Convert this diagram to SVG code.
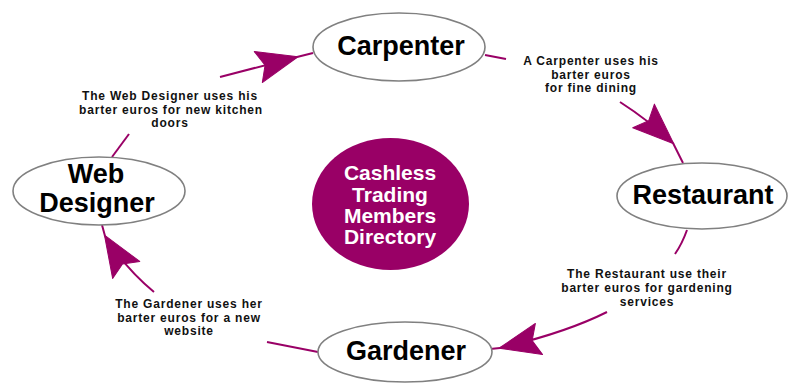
<svg xmlns="http://www.w3.org/2000/svg" width="789" height="383" viewBox="0 0 789 383">
  <defs>
    <style>
      .node { fill: #ffffff; stroke: #808080; stroke-width: 1.6; }
      .hub { fill: #990066; }
      .name { font-family: "Liberation Sans", Arial, sans-serif; font-weight: bold; font-size: 27px; fill: #000000; text-anchor: middle; }
      .hubtext { font-family: "Liberation Sans", Arial, sans-serif; font-weight: bold; font-size: 21px; fill: #ffffff; text-anchor: middle; }
      .label { font-family: "Liberation Sans", Arial, sans-serif; font-weight: bold; font-size: 12px; letter-spacing: 0.8px; fill: #111111; text-anchor: middle; }
      .link { fill: none; stroke: #990066; stroke-width: 2; }
    </style>
    <!-- barbed arrowhead, tip at the path end -->
    <marker id="barb" markerUnits="userSpaceOnUse" markerWidth="60" markerHeight="60" refX="0" refY="0" orient="auto" overflow="visible">
      <path d="M1,0 L-40,-16 L-33,0 L-40,16 Z" fill="#990066" stroke="#990066" stroke-width="1" stroke-linejoin="round"/>
    </marker>
  </defs>

  <rect width="789" height="383" fill="#ffffff"/>

  <!-- connectors -->
  <g id="connectors">
    <!-- Web Designer to Carpenter -->
    <path class="link" d="M112,157 L129,134"/>
    <path class="link" d="M220,77 L297,57" marker-end="url(#barb)"/>
    <path class="link" d="M297,57 L313,53"/>
    <!-- Carpenter to Restaurant -->
    <path class="link" d="M485,55 L506,59"/>
    <path class="link" d="M620,102 Q648,120 673,143" marker-end="url(#barb)"/>
    <path class="link" d="M673,143 L683,163"/>
    <!-- Restaurant to Gardener -->
    <path class="link" d="M687,230 Q682,244 675,254"/>
    <path class="link" d="M607,312 Q565,333 500,348" marker-end="url(#barb)"/>
    <path class="link" d="M500,348 L490,349"/>
    <!-- Gardener to Web Designer -->
    <path class="link" d="M318,352 L267,342"/>
    <path class="link" d="M154,292 Q125,268 105,236" marker-end="url(#barb)"/>
    <path class="link" d="M105,236 L102,225"/>
  </g>

  <!-- connector captions -->
  <g id="caption-webdesigner">
    <text class="label" x="170" y="100">The Web Designer uses his</text>
    <text class="label" x="171" y="114">barter euros for new kitchen</text>
    <text class="label" x="170" y="127">doors</text>
  </g>
  <g id="caption-carpenter">
    <text class="label" x="591" y="65">A Carpenter uses his</text>
    <text class="label" x="591" y="79">barter euros</text>
    <text class="label" x="591" y="92">for fine dining</text>
  </g>
  <g id="caption-restaurant">
    <text class="label" x="647" y="278">The Restaurant use their</text>
    <text class="label" x="647" y="292">barter euros for gardening</text>
    <text class="label" x="647" y="306">services</text>
  </g>
  <g id="caption-gardener">
    <text class="label" x="189" y="308">The Gardener uses her</text>
    <text class="label" x="189" y="322">barter euros for a new</text>
    <text class="label" x="189" y="335">website</text>
  </g>

  <!-- nodes -->
  <g id="carpenter">
    <ellipse class="node" cx="399" cy="47" rx="86" ry="34"/>
    <text class="name" x="401" y="55">Carpenter</text>
  </g>
  <g id="restaurant">
    <ellipse class="node" cx="702" cy="196" rx="85" ry="33"/>
    <text class="name" x="703" y="204">Restaurant</text>
  </g>
  <g id="gardener">
    <ellipse class="node" cx="405" cy="352" rx="87" ry="30"/>
    <text class="name" x="406" y="360">Gardener</text>
  </g>
  <g id="web-designer">
    <ellipse class="node" cx="99" cy="191" rx="86" ry="34"/>
    <text class="name" x="96" y="183">Web</text>
    <text class="name" x="97" y="212">Designer</text>
  </g>
  <g id="directory">
    <ellipse class="hub" cx="390.5" cy="204" rx="78.5" ry="66"/>
    <text class="hubtext" x="390" y="180">Cashless</text>
    <text class="hubtext" x="390" y="202">Trading</text>
    <text class="hubtext" x="390" y="223">Members</text>
    <text class="hubtext" x="390" y="244">Directory</text>
  </g>
</svg>
